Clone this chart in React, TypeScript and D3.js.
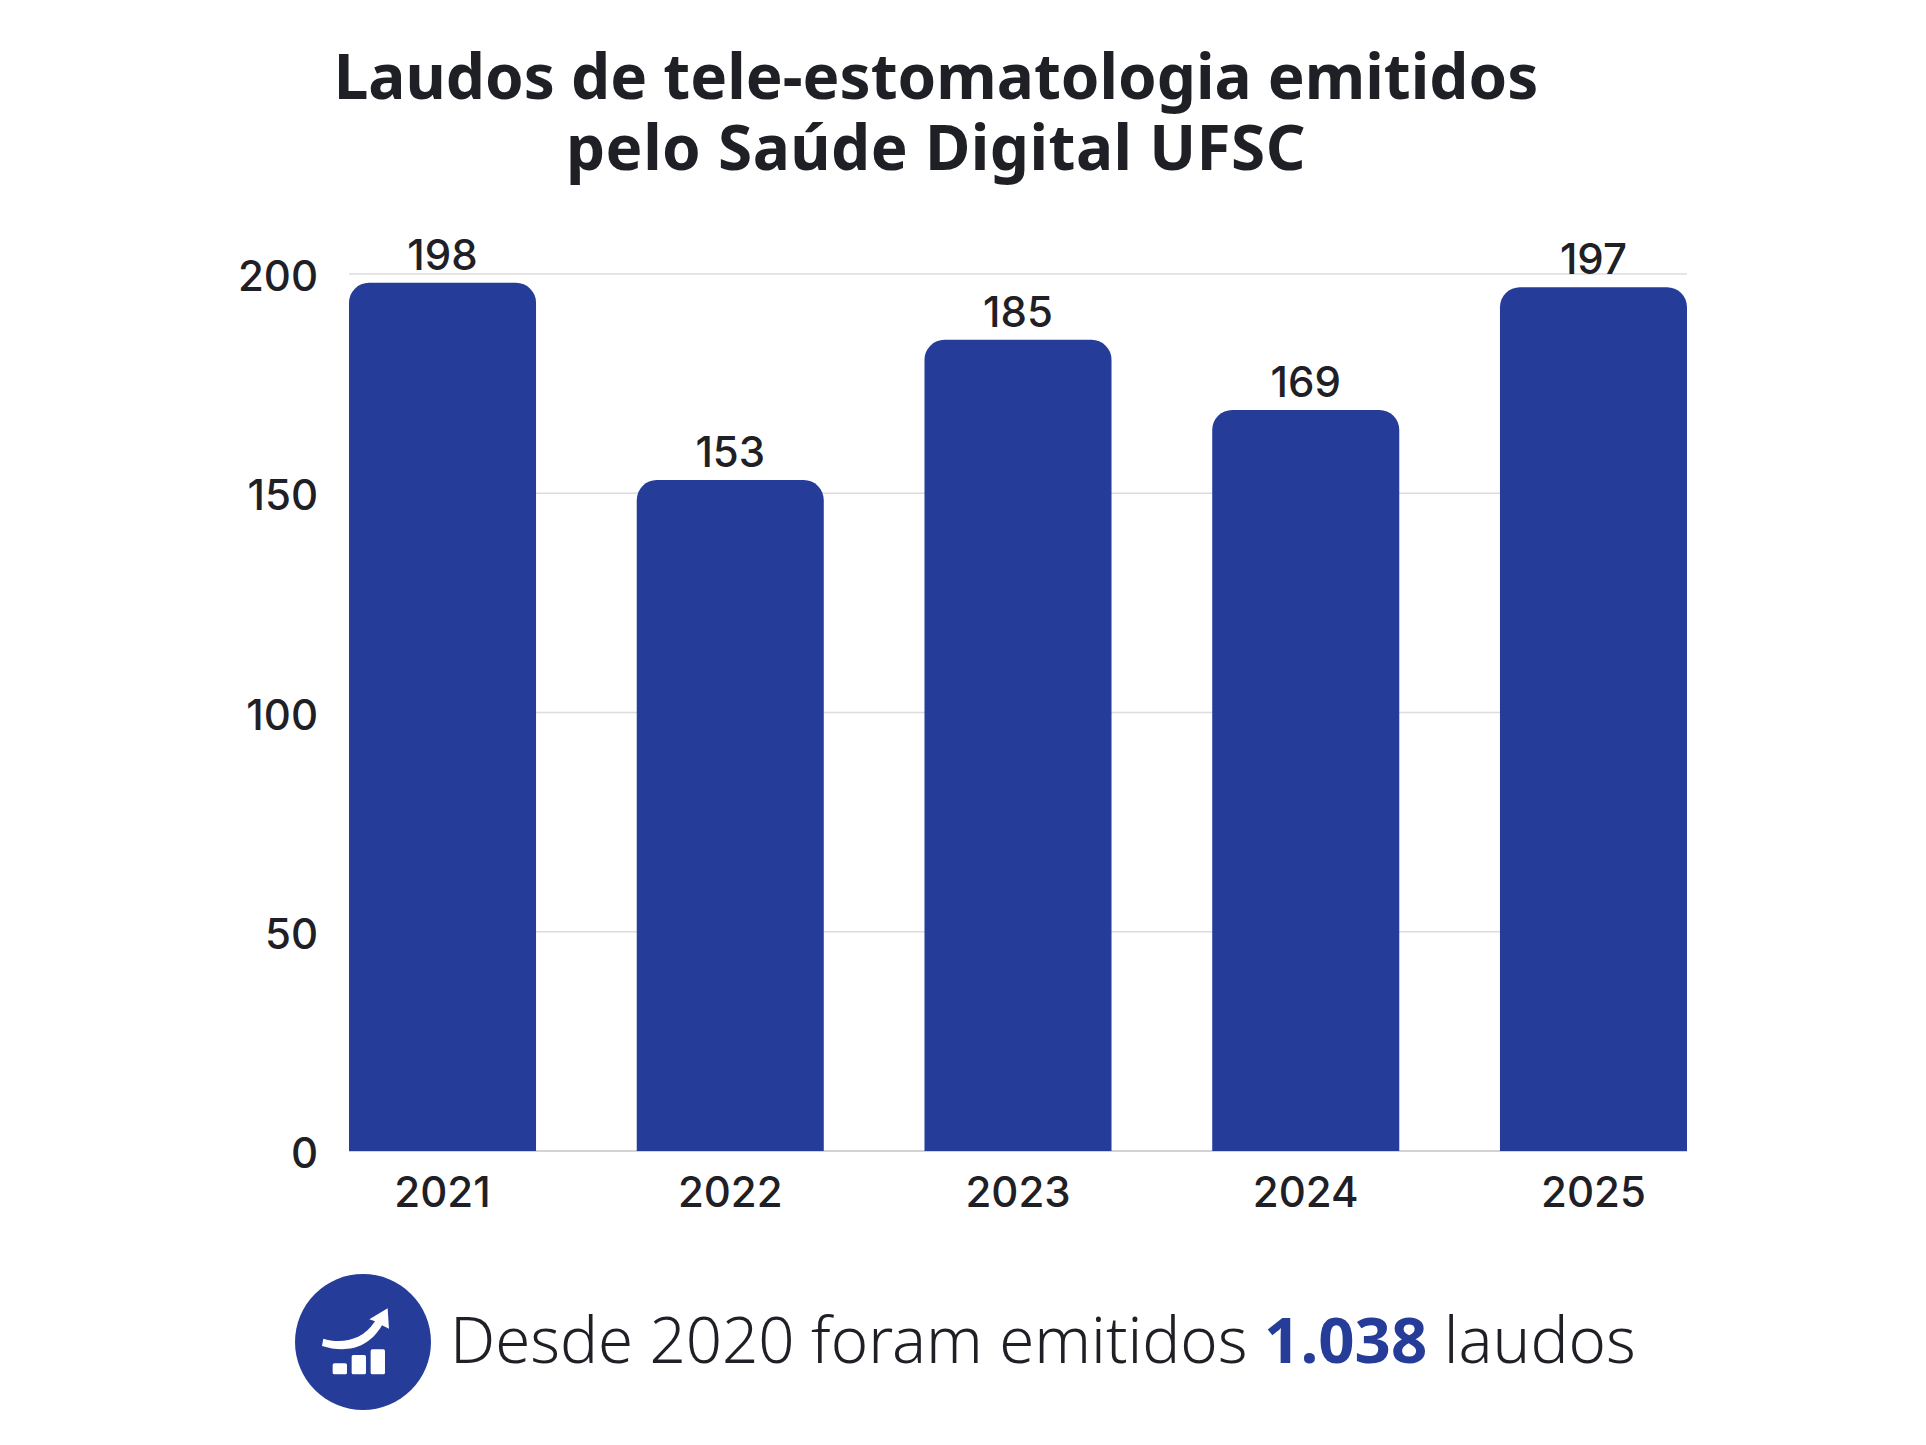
import * as d3 from "d3";

const years = ["2021", "2022", "2023", "2024", "2025"];
const laudos = [198, 153, 185, 169, 197];
const yTicks = [0, 50, 100, 150, 200];
const titleLines = ["Laudos de tele-estomatologia emitidos", "pelo Saúde Digital UFSC"];

const BLUE = "#253d98";
const INK = "#1f2026";
const TITLE_FONT = "'Noto Sans', sans-serif";
const NUM_FONT = "Inter, sans-serif";

const x = d3.scaleBand<string>().domain(years).range([349, 1687]).paddingInner(0.35).paddingOuter(0);
const y = d3.scaleLinear().domain([0, 200]).range([1151, 274]);

// bar with only the top corners rounded
function barPath(x0: number, x1: number, top: number, bottom: number, r: number) {
  const p = d3.path();
  p.moveTo(x0, bottom);
  p.lineTo(x0, top + r);
  p.arcTo(x0, top, x0 + r, top, r);
  p.lineTo(x1 - r, top);
  p.arcTo(x1, top, x1, top + r, r);
  p.lineTo(x1, bottom);
  p.closePath();
  return p.toString();
}

function Icon() {
  return (
    <g>
      <circle cx={363} cy={1342} r={68} fill={BLUE} />
      <g transform="translate(280,1260) scale(0.3333)" fill="#fff">
        <rect x={158} y={310} width={43} height={33} rx={5} />
        <rect x={215} y={285} width={43} height={58} rx={5} />
        <rect x={272} y={268} width={43} height={75} rx={5} />
        <path d="M130 236 C175 250 245 248 285 184 L268 178 L323 145 L327 206 L306 196 C262 272 190 278 126 258 Z" />
      </g>
    </g>
  );
}

export default function App() {
  return (
    <svg width={1926} height={1445} style={{ position: "absolute", left: 0, top: 0, background: "#fff" }}>
      {titleLines.map((t, i) => (
        <text key={t} x={936} y={99 + i * 71} textAnchor="middle" fontFamily={TITLE_FONT} fontWeight={700} fontSize={62} letterSpacing={i === 1 ? 0.5 : 0} fill={INK}>
          {t}
        </text>
      ))}

      {yTicks.map((t) => (
        <g key={t}>
          <line x1={349} x2={1687} y1={y(t)} y2={y(t)} stroke={t === 0 ? "#c4c4c4" : "#dcdcdc"} strokeWidth={1.3} />
          <text x={318} y={y(t) + 17} textAnchor="end" fontFamily={NUM_FONT} fontWeight={500} fontSize={42} fill={INK}>
            {t}
          </text>
        </g>
      ))}

      {years.map((yr, i) => {
        const x0 = x(yr)!;
        const cx = x0 + x.bandwidth() / 2;
        return (
          <g key={yr}>
            <path d={barPath(x0, x0 + x.bandwidth(), y(laudos[i]), y(0), 20)} fill={BLUE} />
            <text x={cx} y={y(laudos[i]) - 13} textAnchor="middle" fontFamily={NUM_FONT} fontWeight={500} fontSize={42} fill={INK}>
              {laudos[i]}
            </text>
            <text x={cx} y={1207} textAnchor="middle" fontFamily={NUM_FONT} fontWeight={500} fontSize={42} fill={INK}>
              {yr}
            </text>
          </g>
        );
      })}

      <Icon />
      <text x={450} y={1363} fontFamily={TITLE_FONT} fontWeight={300} fontSize={63.5} fill={INK}>
        Desde 2020 foram emitidos <tspan fontWeight={700} fill={BLUE}>1.038</tspan> laudos
      </text>
    </svg>
  );
}
